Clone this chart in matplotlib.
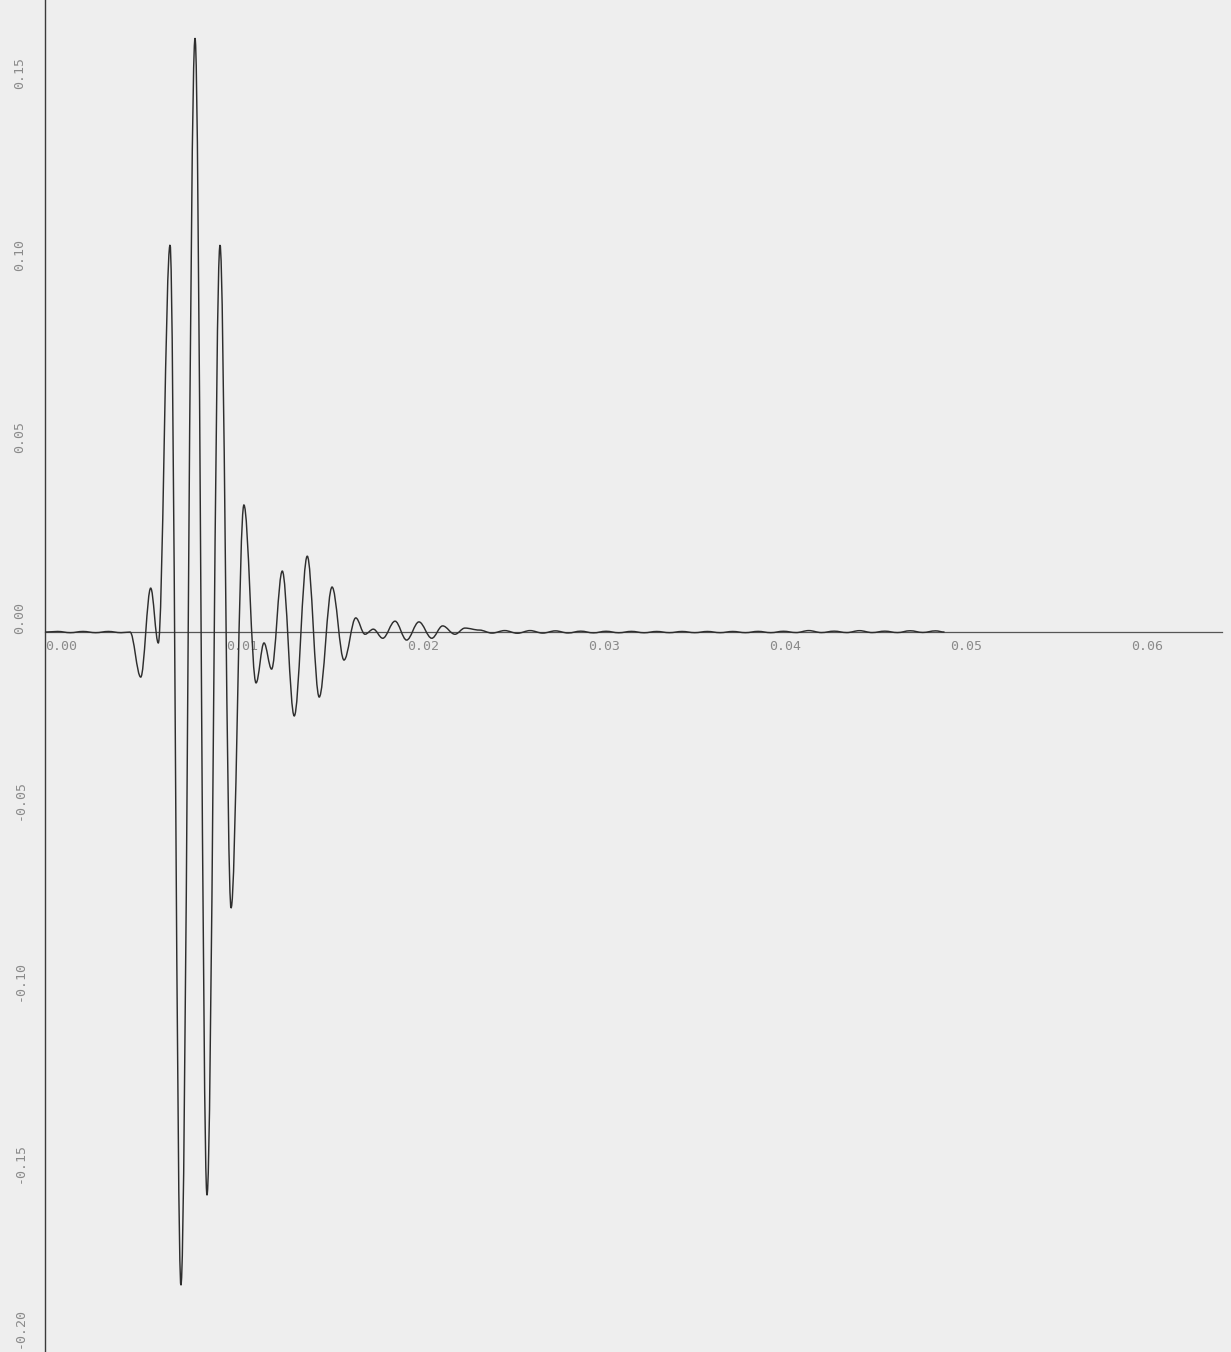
"""
Damped transient response: amplitude vs. time, plotter style.
"""

import matplotlib

matplotlib.use("Agg")
import matplotlib.pyplot as plt
from matplotlib.path import Path
from matplotlib.patches import PathPatch
from matplotlib.transforms import ScaledTranslation, blended_transform_factory

# turning points of the trace (time in s, amplitude)
pre_t = [0.0000, 0.0007, 0.0014, 0.0021, 0.0028, 0.0035, 0.0042, 0.0047]
pre_v = [0.0, 0.00017, -0.00017, 0.00017, -0.00017, 0.00017, -0.00017, 0.0]

burst_t = [0.00529, 0.00584, 0.00626, 0.00691, 0.00751, 0.00829, 0.00895,
           0.00967, 0.01028, 0.01099, 0.01166, 0.01210, 0.01252, 0.01311,
           0.01377, 0.01449, 0.01515, 0.01586, 0.01652, 0.01717, 0.01768,
           0.01814, 0.01866, 0.01934, 0.01998, 0.02066, 0.02137, 0.02197,
           0.02265, 0.02320]
burst_v = [-0.0124, 0.0121, -0.0030, 0.1066, -0.1799, 0.1636, -0.1551,
           0.1066, -0.0760, 0.0350, -0.0140, -0.0030, -0.0102, 0.0168,
           -0.0231, 0.0209, -0.0179, 0.0124, -0.0077, 0.0039, -0.0006,
           0.0008, -0.0017, 0.0030, -0.0022, 0.0028, -0.0017, 0.0017,
           -0.0006, 0.0011]

tail_t = [0.0240, 0.0247, 0.0254, 0.0261, 0.0268, 0.0275, 0.0282, 0.0289,
          0.0296, 0.0303, 0.0310, 0.0317, 0.0324, 0.0331, 0.0338, 0.0345,
          0.0352, 0.0359, 0.0366, 0.0373, 0.0380, 0.0387, 0.0394, 0.0401,
          0.0408, 0.0415, 0.0422, 0.0429, 0.0436, 0.0443, 0.0450, 0.0457,
          0.0464, 0.0471, 0.0478, 0.0485, 0.0492, 0.0497]
tail_v = [0.00055, -0.00028, 0.00041, -0.00033, 0.00041, -0.00028, 0.00033,
          -0.00025, 0.00025, -0.00022, 0.00022, -0.00019, 0.00019, -0.00019,
          0.000165, -0.000165, 0.000165, -0.000165, 0.000165, -0.000165,
          0.000165, -0.000165, 0.00019, -0.000165, 0.00022, -0.00014,
          0.00041, -0.00014, 0.00025, -0.00014, 0.00039, -0.00014, 0.00025,
          -0.00014, 0.00036, -0.00011, 0.00033, 0.0]

x_ticks = [0.00, 0.01, 0.02, 0.03, 0.04, 0.05, 0.06]
x_labels = ["0.00", "0.01", "0.02", "0.03", "0.04", "0.05", "0.06"]
y_ticks = [0.15, 0.10, 0.05, 0.00, -0.05, -0.10, -0.15, -0.20]
y_labels = ["0.15", "0.10", "0.05", "0.00", "-0.05", "-0.10", "-0.15", "-0.20"]

PAPER = "#eeeeee"
INK = "#2e2e2e"
LABEL = "#8a8a8a"


def smooth_path(ts, vs, k=0.36):
    """Cubic segments with flat tangents at every turning point."""
    verts = [(ts[0], vs[0])]
    codes = [Path.MOVETO]
    for (t0, v0), (t1, v1) in zip(zip(ts[:-1], vs[:-1]), zip(ts[1:], vs[1:])):
        d = (t1 - t0) * k
        verts += [(t0 + d, v0), (t1 - d, v1), (t1, v1)]
        codes += [Path.CURVE4] * 3
    return Path(verts, codes)


fig = plt.figure(figsize=(12.31, 13.52), dpi=100, facecolor=PAPER)
ax = fig.add_axes([45 / 1231, 0.0, 1177 / 1231, 1.0])
ax.set_facecolor(PAPER)

ts = pre_t + burst_t + tail_t
vs = pre_v + burst_v + tail_v
ax.add_patch(PathPatch(smooth_path(ts, vs), fill=False, edgecolor=INK,
                       linewidth=1.05, zorder=3))

ax.set_xlim(0, 0.06503)
ax.set_ylim(-0.1983, 0.1741)

for side in ("top", "right"):
    ax.spines[side].set_visible(False)
ax.spines["left"].set_color("#3a3a3a")
ax.spines["left"].set_linewidth(1.0)
ax.spines["bottom"].set_position(("data", 0))
ax.spines["bottom"].set_color("#555555")
ax.spines["bottom"].set_linewidth(0.9)

ax.set_xticks(x_ticks)
ax.set_xticklabels(x_labels, ha="left", family="DejaVu Sans Mono",
                   fontsize=9.5, color=LABEL)
ax.tick_params(axis="x", length=0, pad=6)

ax.set_yticks([])
lift = ScaledTranslation(0, 14 / 100, fig.dpi_scale_trans)
trans = blended_transform_factory(ax.transAxes, ax.transData) + lift
for v, lab in zip(y_ticks, y_labels):
    if v == y_ticks[-1]:
        # lowest label sits on the bottom edge of the sheet
        ax.text(-25 / 1177, 0.003, lab, transform=ax.transAxes, rotation=90,
                ha="center", va="bottom", family="DejaVu Sans Mono",
                fontsize=9.5, color=LABEL, clip_on=False)
        continue
    ax.text(-25 / 1177, v, lab, transform=trans, rotation=90, ha="center",
            va="center", family="DejaVu Sans Mono", fontsize=9.5,
            color=LABEL, clip_on=False)

fig.savefig("out.png", dpi=100, facecolor=PAPER)
plt.close(fig)
